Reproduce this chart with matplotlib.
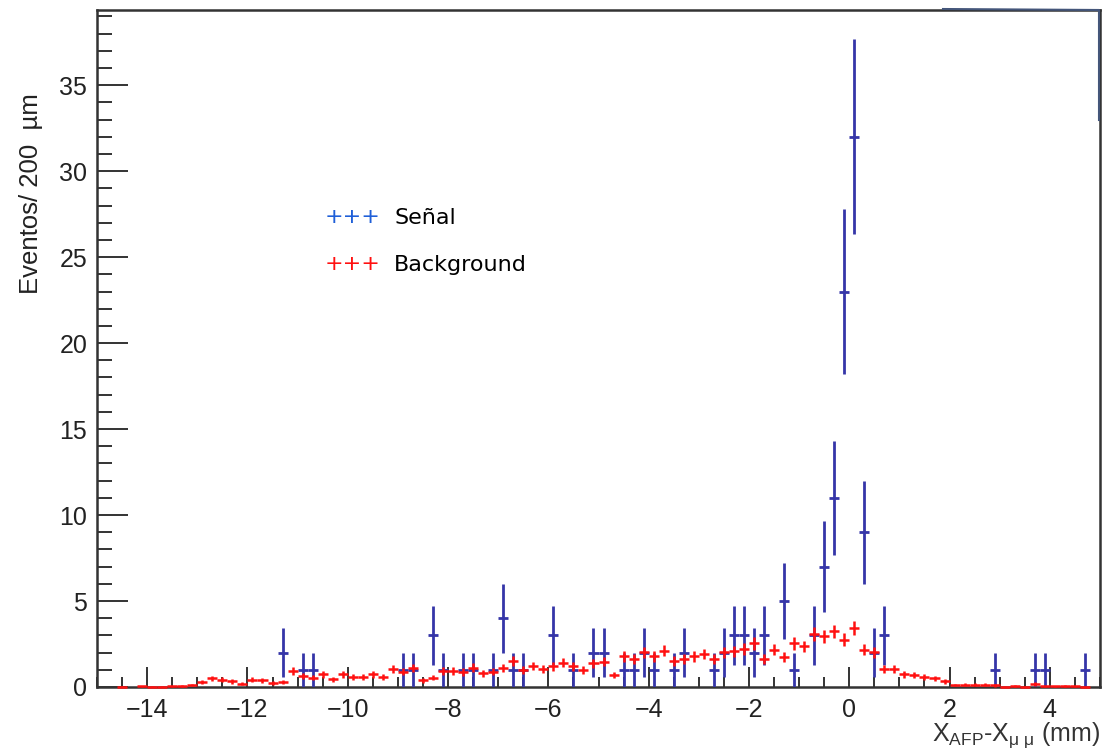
import numpy as np
import matplotlib
matplotlib.use("Agg")
import matplotlib.pyplot as plt
from matplotlib.lines import Line2D
from matplotlib.ticker import MultipleLocator

OUT_FILE = "out.png"

# histogram binning: 100 bins of 200 um between -15 and 5 mm
x_lo, x_hi, n_bins = -15.0, 5.0, 100

# signal counts per bin (Poisson errors)
sig_counts = [
    0, 0, 0, 0, 0, 0, 0, 0, 0, 0,
    0, 0, 0, 0, 0, 0, 0, 0, 2, 0,
    1, 1, 0, 0, 0, 0, 0, 0, 0, 0,
    1, 1, 0, 3, 1, 0, 1, 1, 0, 1,
    4, 1, 1, 0, 0, 3, 0, 1, 0, 2,
    2, 0, 1, 1, 2, 1, 0, 1, 2, 0,
    0, 1, 2, 3, 3, 2, 3, 0, 5, 1,
    0, 3, 7, 11, 23, 32, 9, 2, 3, 0,
    0, 0, 0, 0, 0, 0, 0, 0, 0, 1,
    0, 0, 0, 1, 1, 0, 0, 0, 1, 0,
]

# normalised background per bin (nan = empty bin)
bkg_values = [
    np.nan, np.nan, 0.02, np.nan, 0.03, 0.02, 0.02, 0.03, 0.06, 0.10,
    0.30, 0.50, 0.43, 0.32, 0.20, 0.42, 0.40, 0.24, 0.30, 0.93,
    0.62, 0.55, 0.73, 0.45, 0.73, 0.58, 0.58, 0.74, 0.58, 1.05,
    0.90, 1.12, 0.40, 0.55, 0.93, 0.93, 0.87, 1.13, 0.81, 0.88,
    1.12, 1.50, 1.00, 1.22, 1.03, 1.20, 1.40, 1.20, 1.00, 1.38,
    1.47, 0.68, 1.78, 1.65, 2.03, 1.78, 2.10, 1.50, 1.65, 1.78,
    1.92, 1.65, 2.02, 2.08, 2.20, 2.53, 1.65, 2.17, 1.74, 2.53,
    2.36, 3.08, 2.95, 3.23, 2.75, 3.45, 2.17, 2.03, 1.03, 1.05,
    0.74, 0.68, 0.56, 0.50, 0.33, 0.12, 0.14, 0.14, 0.13, 0.09,
    0.02, 0.05, 0.02, 0.17, 0.04, 0.04, 0.05, 0.03, 0.02, np.nan,
]
# per-event weight of the background sample (sumw2 error)
bkg_weight = 0.05

x_ticks_major = np.arange(-14, 5, 2)
y_max = 39.4

edges = np.linspace(x_lo, x_hi, n_bins + 1)
centers = 0.5 * (edges[:-1] + edges[1:])
half_w = 0.5 * (edges[1] - edges[0])

sig = np.array(sig_counts, dtype=float)
bkg = np.array(bkg_values, dtype=float)

W, H = 1102, 751
fig = plt.figure(figsize=(W / 100, H / 100), dpi=100)
ax = fig.add_axes([97 / W, 1 - 687 / H, (1100 - 97) / W, (687 - 9.5) / H])

# signal: only filled bins are drawn
filled = sig > 0
ax.errorbar(centers[filled], sig[filled], xerr=half_w, yerr=np.sqrt(sig[filled]),
            fmt="none", ecolor="#3535a8", elinewidth=2.0, capsize=0, zorder=3)

ok = ~np.isnan(bkg)
ax.errorbar(centers[ok], bkg[ok], xerr=half_w, yerr=np.sqrt(bkg[ok] * bkg_weight),
            fmt="none", ecolor="#ff1010", elinewidth=1.8, capsize=0, zorder=4,
            clip_on=False)

ax.set_xlim(x_lo, x_hi)
ax.set_ylim(0, y_max)

frame_col = "#333333"
for side in ["left", "bottom", "top", "right"]:
    ax.spines[side].set_linewidth(1.8)
    ax.spines[side].set_color(frame_col)

ax.set_xticks(x_ticks_major)
ax.xaxis.set_minor_locator(MultipleLocator(0.5))
ax.yaxis.set_major_locator(MultipleLocator(5))
ax.yaxis.set_minor_locator(MultipleLocator(1))
ax.tick_params(axis="x", which="major", direction="in", length=14.5, width=1.4,
               color=frame_col, pad=8, labelsize=18)
ax.tick_params(axis="x", which="minor", direction="in", length=7.2, width=1.4,
               color=frame_col)
ax.tick_params(axis="y", which="major", direction="in", length=22, width=1.4,
               color=frame_col, pad=7, labelsize=18)
ax.tick_params(axis="y", which="minor", direction="in", length=10.8, width=1.4,
               color=frame_col)
for lab in ax.get_xticklabels() + ax.get_yticklabels():
    lab.set_fontfamily("Liberation Sans")
    lab.set_color("#222222")

# axis titles, ROOT style at the end of each axis
plt.rcParams["mathtext.fontset"] = "custom"
plt.rcParams["mathtext.rm"] = "Liberation Sans"
plt.rcParams["mathtext.it"] = "Liberation Sans:italic"
fig.text(1100 / W, 1 - 735 / H, r"X$_{\mathrm{AFP}}$-X$_{\mathrm{\mu\ \mu}}$ (mm)",
         ha="right", va="center", fontsize=18, family="Liberation Sans", color="#333333")
fig.text(31 / W, 1 - 93 / H, "Eventos/ 200  µm", rotation=90, ha="center", va="top",
         fontsize=18.5, family="Liberation Sans", color="#222222")

# legend written as text
leg_font = dict(fontsize=16, family="DejaVu Sans", va="center", ha="left")
fig.text(325 / W, 1 - 217 / H, "+++", color="#1f5fd8", **leg_font)
fig.text(394 / W, 1 - 218 / H, "Señal", color="black", **leg_font)
fig.text(325 / W, 1 - 264 / H, "+++", color="#ff1010", **leg_font)
fig.text(394 / W, 1 - 265 / H, "Background", color="black", **leg_font)

# redrawn corner of the frame, top right
fig.add_artist(Line2D([943 / W, 1099 / W, 1099 / W],
                      [1 - 9 / H, 1 - 10 / H, 1 - 120 / H],
                      color="#44567a", lw=1.5, transform=fig.transFigure))

fig.savefig(OUT_FILE, dpi=100)
